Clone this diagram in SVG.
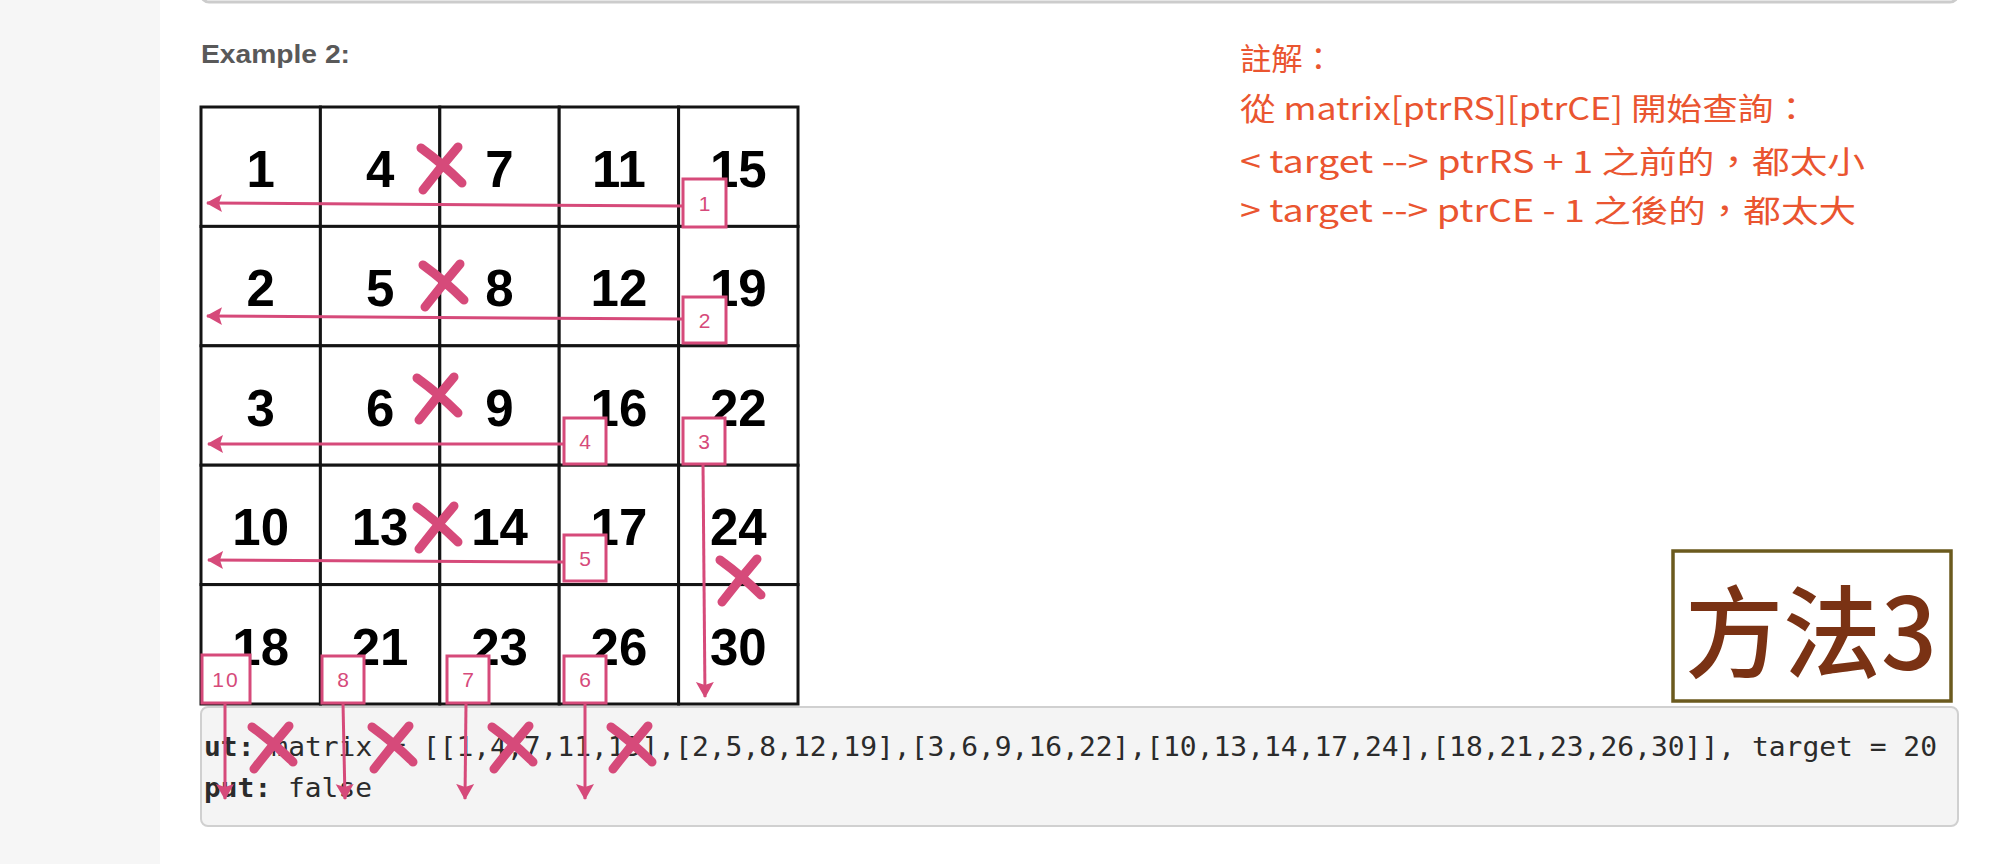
<svg xmlns="http://www.w3.org/2000/svg" width="1996" height="864" viewBox="0 0 1996 864">
<style>
.cell rect{fill:#fff;stroke:#141414;stroke-width:3}
.cell text{font-family:"Liberation Sans",Arial,sans-serif;font-weight:700;font-size:51px;fill:#000;text-anchor:middle}
.step rect{fill:#fff;stroke:#d64a7a;stroke-width:3}
.step text{font-family:"Liberation Sans",Arial,sans-serif;font-size:21px;fill:#d64a7a;text-anchor:middle}
.arrow{fill:none;stroke:#d64a7a;stroke-width:3;marker-end:url(#ah)}
.x{fill:none;stroke:#d64a7a;stroke-width:9;stroke-linecap:round}
.code{font-family:"DejaVu Sans Mono",monospace;font-size:27px;fill:#2b2b2b}
.note{font-family:"Noto Sans CJK TC","Noto Sans CJK SC",sans-serif;font-size:31px;font-weight:400;fill:#ea5530}
</style>
<defs>
<marker id="ah" viewBox="0 0 16 20" refX="15" refY="10" markerWidth="16" markerHeight="20" markerUnits="userSpaceOnUse" orient="auto">
<path d="M0,1 L16,10 L0,19 L3,10 z" fill="#d64a7a"/>
</marker>
<path id="xm" class="x" d="M-20,-20 Q2,-4 21,15 M17,-21 Q-1,0 -18,22"/>
</defs>
<rect x="0" y="0" width="1996" height="864" fill="#fff"/>
<rect id="sidebar" x="0" y="0" width="160" height="864" fill="#f6f6f6"/>
<rect id="topbox" x="201" y="-40" width="1757" height="42" rx="8" fill="#fff" stroke="#cccccc" stroke-width="3"/>
<text id="title" x="201" y="63" font-family="Liberation Sans,Arial,sans-serif" font-weight="700" font-size="25" fill="#595959" textLength="149" lengthAdjust="spacingAndGlyphs">Example 2:</text>

<g id="grid">
<g id="c00" class="cell"><rect x="201" y="107" width="119.4" height="119.4"/><text x="260.7" y="187">1</text></g>
<g id="c01" class="cell"><rect x="320.4" y="107" width="119.4" height="119.4"/><text x="380.1" y="187">4</text></g>
<g id="c02" class="cell"><rect x="439.8" y="107" width="119.4" height="119.4"/><text x="499.5" y="187">7</text></g>
<g id="c03" class="cell"><rect x="559.2" y="107" width="119.4" height="119.4"/><text x="618.9" y="187">11</text></g>
<g id="c04" class="cell"><rect x="678.6" y="107" width="119.4" height="119.4"/><text x="738.3" y="187">15</text></g>
<g id="c10" class="cell"><rect x="201" y="226.4" width="119.4" height="119.4"/><text x="260.7" y="306.4">2</text></g>
<g id="c11" class="cell"><rect x="320.4" y="226.4" width="119.4" height="119.4"/><text x="380.1" y="306.4">5</text></g>
<g id="c12" class="cell"><rect x="439.8" y="226.4" width="119.4" height="119.4"/><text x="499.5" y="306.4">8</text></g>
<g id="c13" class="cell"><rect x="559.2" y="226.4" width="119.4" height="119.4"/><text x="618.9" y="306.4">12</text></g>
<g id="c14" class="cell"><rect x="678.6" y="226.4" width="119.4" height="119.4"/><text x="738.3" y="306.4">19</text></g>
<g id="c20" class="cell"><rect x="201" y="345.8" width="119.4" height="119.4"/><text x="260.7" y="425.8">3</text></g>
<g id="c21" class="cell"><rect x="320.4" y="345.8" width="119.4" height="119.4"/><text x="380.1" y="425.8">6</text></g>
<g id="c22" class="cell"><rect x="439.8" y="345.8" width="119.4" height="119.4"/><text x="499.5" y="425.8">9</text></g>
<g id="c23" class="cell"><rect x="559.2" y="345.8" width="119.4" height="119.4"/><text x="618.9" y="425.8">16</text></g>
<g id="c24" class="cell"><rect x="678.6" y="345.8" width="119.4" height="119.4"/><text x="738.3" y="425.8">22</text></g>
<g id="c30" class="cell"><rect x="201" y="465.2" width="119.4" height="119.4"/><text x="260.7" y="545.2">10</text></g>
<g id="c31" class="cell"><rect x="320.4" y="465.2" width="119.4" height="119.4"/><text x="380.1" y="545.2">13</text></g>
<g id="c32" class="cell"><rect x="439.8" y="465.2" width="119.4" height="119.4"/><text x="499.5" y="545.2">14</text></g>
<g id="c33" class="cell"><rect x="559.2" y="465.2" width="119.4" height="119.4"/><text x="618.9" y="545.2">17</text></g>
<g id="c34" class="cell"><rect x="678.6" y="465.2" width="119.4" height="119.4"/><text x="738.3" y="545.2">24</text></g>
<g id="c40" class="cell"><rect x="201" y="584.6" width="119.4" height="119.4"/><text x="260.7" y="664.6">18</text></g>
<g id="c41" class="cell"><rect x="320.4" y="584.6" width="119.4" height="119.4"/><text x="380.1" y="664.6">21</text></g>
<g id="c42" class="cell"><rect x="439.8" y="584.6" width="119.4" height="119.4"/><text x="499.5" y="664.6">23</text></g>
<g id="c43" class="cell"><rect x="559.2" y="584.6" width="119.4" height="119.4"/><text x="618.9" y="664.6">26</text></g>
<g id="c44" class="cell"><rect x="678.6" y="584.6" width="119.4" height="119.4"/><text x="738.3" y="664.6">30</text></g>
</g>

<g id="codebox">
<rect x="201" y="707" width="1757" height="119" rx="7" fill="#f4f4f4" stroke="#d0d0d0" stroke-width="2"/>
<text class="code" x="204" y="756" textLength="1733" lengthAdjust="spacingAndGlyphs"><tspan font-weight="700">ut:</tspan> matrix = [[1,4,7,11,15],[2,5,8,12,19],[3,6,9,16,22],[10,13,14,17,24],[18,21,23,26,30]], target = 20</text>
<text class="code" x="204" y="797" textLength="168" lengthAdjust="spacingAndGlyphs"><tspan font-weight="700">put:</tspan> false</text>
</g>

<g id="steps">
<g id="s1" class="step"><rect x="683" y="179" width="43" height="48"/><text x="704.5" y="211">1</text></g>
<g id="s2" class="step"><rect x="683" y="297" width="43" height="46"/><text x="704.5" y="328">2</text></g>
<g id="s3" class="step"><rect x="683" y="418" width="42" height="46"/><text x="704" y="449">3</text></g>
<g id="s4" class="step"><rect x="564" y="418" width="42" height="46"/><text x="585" y="449">4</text></g>
<g id="s5" class="step"><rect x="564" y="535" width="42" height="46"/><text x="585" y="566">5</text></g>
<g id="s6" class="step"><rect x="564" y="656" width="42" height="47"/><text x="585" y="687">6</text></g>
<g id="s7" class="step"><rect x="447" y="656" width="42" height="47"/><text x="468" y="687">7</text></g>
<g id="s8" class="step"><rect x="322" y="656" width="42" height="47"/><text x="343" y="687">8</text></g>
<g id="s10" class="step"><rect x="202" y="655" width="48" height="48"/><text x="226" y="687" letter-spacing="2">10</text></g>
</g>

<g id="connectors">
<path class="arrow" d="M683,206 L207,203"/>
<path class="arrow" d="M683,319 L207,316"/>
<path class="arrow" d="M703,464 L705,697"/>
<path class="arrow" d="M564,444 L208,444"/>
<path class="arrow" d="M564,562 L208,560"/>
<path class="arrow" d="M585,703 L585,799"/>
<path class="arrow" d="M466,703 L465,799"/>
<path class="arrow" d="M343,703 L345,799"/>
<path class="arrow" d="M225,703 L225,799"/>
</g>

<g id="marks">
<use href="#xm" x="441" y="168"/>
<use href="#xm" x="443" y="285"/>
<use href="#xm" x="437" y="398"/>
<use href="#xm" x="437" y="527"/>
<use href="#xm" x="740" y="580"/>
<use href="#xm" x="272" y="747"/>
<use href="#xm" x="392" y="747"/>
<use href="#xm" x="512" y="747"/>
<use href="#xm" x="631" y="747"/>
</g>

<g id="notes">
<text class="note" x="1240" y="70" textLength="94" lengthAdjust="spacingAndGlyphs">註解：</text>
<text class="note" x="1240" y="120" textLength="569" lengthAdjust="spacingAndGlyphs">從 matrix[ptrRS][ptrCE] 開始查詢：</text>
<text class="note" x="1240" y="173" textLength="625" lengthAdjust="spacingAndGlyphs">&lt; target --&gt; ptrRS + 1 之前的，都太小</text>
<text class="note" x="1240" y="222" textLength="616" lengthAdjust="spacingAndGlyphs">&gt; target --&gt; ptrCE - 1 之後的，都太大</text>
</g>

<g id="method">
<rect x="1673" y="551" width="278" height="150" fill="#fff" stroke="#6b5a1e" stroke-width="3.5"/>
<text x="1685" y="670" font-family="Noto Sans CJK TC,Noto Sans CJK SC,sans-serif" font-weight="500" font-size="100" fill="#7a3214" textLength="252" lengthAdjust="spacingAndGlyphs">方法3</text>
</g>
</svg>
